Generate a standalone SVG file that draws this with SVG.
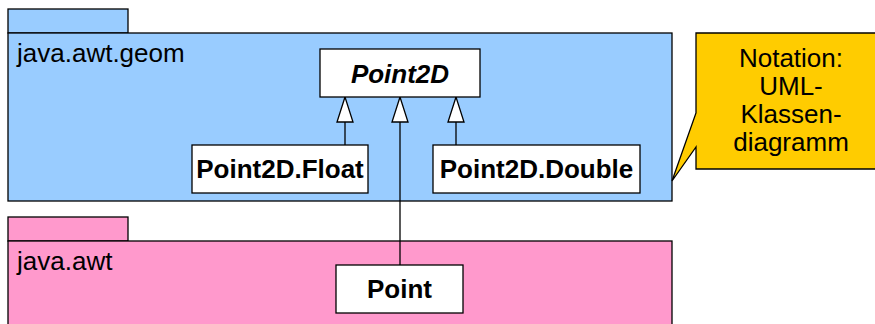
<svg xmlns="http://www.w3.org/2000/svg" width="875" height="324" viewBox="0 0 875 324">
<style>
.pkg{stroke:#000;stroke-width:1.3}
.geom{fill:#99CCFF}
.awt{fill:#FF99CC}
.cls{fill:#fff;stroke:#000;stroke-width:1.3}
.t{font-family:"Liberation Sans",Arial,sans-serif;font-size:26px;fill:#000}
.b{font-weight:bold;text-anchor:middle}
.edge{stroke:#000;stroke-width:1.3;fill:none}
</style>
<defs>
<marker id="tri" viewBox="-1 -1 28 18" refX="25" refY="8" markerWidth="28" markerHeight="18" markerUnits="userSpaceOnUse" orient="auto">
<path d="M25,8 L0,0 L0,16 Z" fill="#fff" stroke="#000" stroke-width="1.3"/>
</marker>
</defs>
<g id="pkg-geom">
<rect class="pkg geom" x="8" y="9" width="120" height="24"/>
<rect class="pkg geom" x="8" y="33" width="664" height="168"/>
<text class="t" x="17" y="62">java.awt.geom</text>
</g>
<g id="pkg-awt">
<rect class="pkg awt" x="8" y="217" width="120" height="24"/>
<rect class="pkg awt" x="8" y="241" width="664" height="95"/>
<text class="t" x="17" y="270">java.awt</text>
</g>
<g id="note">
<path d="M696,33 L880,33 L880,169 L696,169 L696,147 L672,181 L696,113 Z" fill="#FFCC00" stroke="#000" stroke-width="1.3"/>
<text class="t" text-anchor="middle" x="791" y="67">Notation:</text>
<text class="t" text-anchor="middle" x="791" y="95">UML-</text>
<text class="t" text-anchor="middle" x="791" y="123">Klassen-</text>
<text class="t" text-anchor="middle" x="791" y="151">diagramm</text>
</g>
<g id="connectors">
<line class="edge" x1="345" y1="145" x2="345" y2="97" marker-end="url(#tri)"/>
<line class="edge" x1="456" y1="145" x2="456" y2="97" marker-end="url(#tri)"/>
<line class="edge" x1="400" y1="265" x2="400" y2="97" marker-end="url(#tri)"/>
</g>
<g id="point2d">
<rect class="cls" x="320" y="49" width="160" height="48"/>
<text class="t b" font-style="italic" x="400" y="83">Point2D</text>
</g>
<g id="point2d-float">
<rect class="cls" x="192" y="145" width="176" height="48"/>
<text class="t b" x="280" y="178">Point2D.Float</text>
</g>
<g id="point2d-double">
<rect class="cls" x="433" y="145" width="207" height="48"/>
<text class="t b" x="536.5" y="178">Point2D.Double</text>
</g>
<g id="point">
<rect class="cls" x="336" y="265" width="127" height="48"/>
<text class="t b" x="399.5" y="298">Point</text>
</g>
</svg>
